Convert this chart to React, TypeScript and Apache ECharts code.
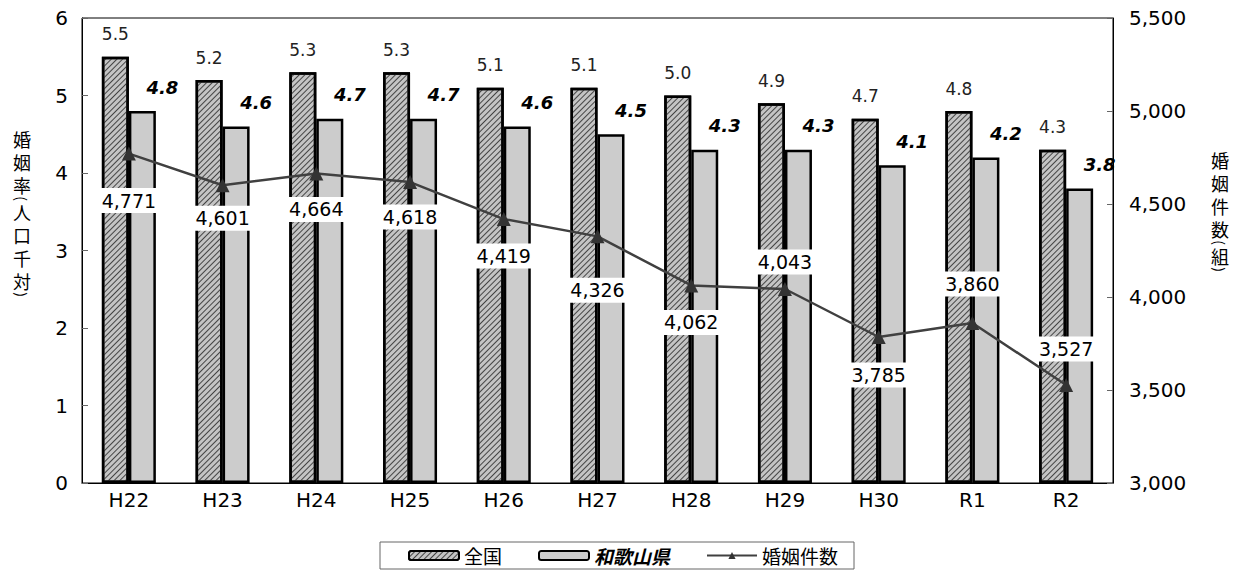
import React, { useEffect, useRef } from "react";
import * as echarts from "echarts";

const categories = ["H22", "H23", "H24", "H25", "H26", "H27", "H28", "H29", "H30", "R1", "R2"];
const nationalRate = [5.5, 5.2, 5.3, 5.3, 5.1, 5.1, 5.0, 4.9, 4.7, 4.8, 4.3];
const wakayamaRate = [4.8, 4.6, 4.7, 4.7, 4.6, 4.5, 4.3, 4.3, 4.1, 4.2, 3.8];
const marriages = [4771, 4601, 4664, 4618, 4419, 4326, 4062, 4043, 3785, 3860, 3527];
const lineLabelOffsets = [47, 33, 36, 35, 37, 54, 37, -27, 38, -39, -36];

const leftName = ["婚", "姻", "率", "(", "人", "口", "千", "対", ")"];
const leftNameY = [139, 162, 185, 198.5, 212, 235, 258, 281, 294.5];
const rightName = ["婚", "姻", "件", "数", "(", "組", ")"];
const rightNameY = [160, 183, 206, 229, 242.5, 256, 269.5];

const CJK = "'Noto Sans CJK JP', 'Noto Sans', sans-serif";
const NUM = "'DejaVu Sans', 'Noto Sans', sans-serif";

function nameChars(chars: string[], ys: number[], x: number) {
  return chars.map((c, i) => {
    const paren = c === "(" || c === ")";
    return {
      type: "text",
      x,
      y: ys[i],
      rotation: paren ? -Math.PI / 2 : 0,
      style: {
        text: c,
        font: (paren ? "14px " : "18px ") + CJK,
        fill: "#000",
        align: "center",
        verticalAlign: "middle",
      },
    };
  });
}

export default function App() {
  const ref = useRef<HTMLDivElement>(null);
  useEffect(() => {
    const chart = echarts.init(ref.current!, undefined, { renderer: "svg" });
    const fmt = (v: number) => v.toLocaleString("en-US");
    chart.setOption({
      animation: false,
      textStyle: { fontFamily: CJK },
      grid: { left: 82, right: 124, top: 18, bottom: 98, show: true, borderColor: "#000", borderWidth: 1 },
      legend: {
        left: 380, top: 542, padding: [4, 16, 4, 28], itemGap: 36, itemWidth: 50, itemHeight: 9,
        borderColor: "#666", borderWidth: 1,
        textStyle: { fontSize: 19, color: "#000", fontFamily: CJK,
          rich: { b: { fontSize: 19, fontWeight: "bold", fontStyle: "italic", color: "#000", fontFamily: CJK } } },
        formatter: (name: string) => (name === "和歌山県" ? "{b|" + name + "}" : name),
        data: ["全国", "和歌山県", "婚姻件数"],
      },
      xAxis: {
        type: "category", data: categories,
        axisLine: { lineStyle: { color: "#000" } },
        axisTick: { inside: true, length: 5, lineStyle: { color: "#666" } },
        axisLabel: { fontSize: 20, color: "#000", margin: 7, fontFamily: NUM },
      },
      yAxis: [
        { type: "value", min: 0, max: 6, interval: 1, splitLine: { show: false },
          axisLine: { show: true, lineStyle: { color: "#000" } },
          axisTick: { show: true, inside: true, length: 6, lineStyle: { color: "#666" } },
          axisLabel: { fontSize: 20, color: "#000", margin: 14, fontFamily: NUM } },
        { type: "value", min: 3000, max: 5500, interval: 500, splitLine: { show: false },
          axisLine: { show: true, lineStyle: { color: "#000" } },
          axisTick: { show: true, inside: true, length: 6, lineStyle: { color: "#666" } },
          axisLabel: { fontSize: 20, color: "#000", margin: 16, formatter: fmt, fontFamily: NUM } },
      ],
      graphic: [...nameChars(leftName, leftNameY, 22), ...nameChars(rightName, rightNameY, 1220)],
      series: [
        {
          name: "全国", type: "bar", data: nationalRate, barWidth: 27, barGap: "0%",
          itemStyle: { color: "#c4c4c4", borderColor: "#000", borderWidth: 2.5,
            decal: { symbol: "rect", symbolSize: 1, color: "#444", dashArrayX: [1, 0], dashArrayY: [1, 3], rotation: -Math.PI / 4 } },
          label: { show: true, position: "top", distance: 14, fontSize: 17, color: "#222",
            formatter: (p: any) => p.value.toFixed(1), fontFamily: NUM },
        },
        {
          name: "和歌山県", type: "bar", data: wakayamaRate, barWidth: 27, barGap: "0%",
          itemStyle: { color: "#cccccc", borderColor: "#000", borderWidth: 2.5 },
          label: { show: true, position: "top", distance: 15, offset: [20, 0], fontSize: 18, fontWeight: "bold",
            fontStyle: "italic", color: "#000", formatter: (p: any) => p.value.toFixed(1), fontFamily: NUM },
        },
        {
          name: "婚姻件数", type: "line", yAxisIndex: 1, symbol: "triangle", symbolSize: 14,
          itemStyle: { color: "#333" }, lineStyle: { color: "#404040", width: 2.5 },
          data: marriages.map((v, i) => ({ value: v, label: { offset: [0, lineLabelOffsets[i]] } })),
          label: { show: true, position: "inside", fontSize: 19, color: "#000", backgroundColor: "#fff",
            padding: [3, 4], formatter: (p: any) => fmt(p.value), fontFamily: NUM },
          z: 5,
        },
      ],
    });
    return () => chart.dispose();
  }, []);
  return <div ref={ref} style={{ position: "fixed", left: 0, top: 0, width: 1237, height: 581, background: "#fff" }} />;
}
